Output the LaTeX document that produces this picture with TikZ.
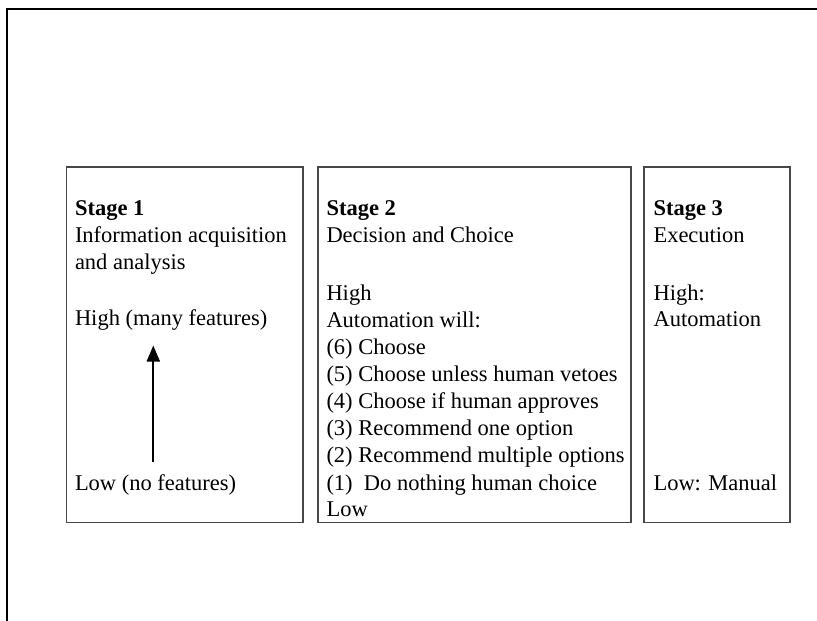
\documentclass[tikz,border=0pt]{standalone}
\usepackage{fontspec}
\setmainfont{Liberation Serif}
\usetikzlibrary{arrows.meta}

\begin{document}
\begin{tikzpicture}[x=1pt,y=-1pt,
  frameline/.style={line width=2pt,black},
  stagebox/.style={draw=black!72,line width=1.5pt},
  txt/.style={anchor=base west,inner sep=0pt,outer sep=0pt,
    font=\fontsize{22.5}{27}\selectfont,text=black},
  hdr/.style={txt,font=\fontsize{22.5}{27}\selectfont\bfseries},
  uparrow/.style={line width=2pt,-{Triangle[length=16pt,width=13pt]}}]

  % canvas
  \useasboundingbox (0,0) rectangle (817,621);
  \fill[white] (0,0) rectangle (817,621);

  % open page frame: top and left edges only
  \draw[frameline] (6.5,621) -- (6.5,9) -- (817,9);

  % the three stage panels
  \draw[stagebox] (66.5,167) rectangle (303,522.5);
  \draw[stagebox] (318,167) rectangle (631,522.5);
  \draw[stagebox] (644,167) rectangle (790,522.5);

  % Stage 1
  \node[hdr] (s1title) at (75,215.7) {Stage 1};
  \node[txt] (s1a) at (75,242.4) {Information acquisition};
  \node[txt] (s1b) at (75,269.1) {and analysis};
  \node[txt] (s1high) at (75,325) {High (many features)};
  \node[txt] (s1low) at (75,490) {Low (no features)};
  \coordinate (arrlow) at (153.3,462);
  \coordinate (arrhigh) at (153.3,345.5);
  \draw[uparrow] (arrlow) -- (arrhigh);

  % Stage 2
  \node[hdr] (s2title) at (326.5,215.7) {Stage 2};
  \node[txt] (s2a) at (326.5,242.4) {Decision and Choice};
  \node[txt] (s2high) at (326.5,300.5) {High};
  \node[txt] (s2auto) at (326.5,327.5) {Automation will:};
  \node[txt] (s2l6) at (326.5,354.6) {(6) Choose};
  \node[txt] (s2l5) at (326.5,381.7) {(5) Choose unless human vetoes};
  \node[txt] (s2l4) at (326.5,408.8) {(4) Choose if human approves};
  \node[txt] (s2l3) at (326.5,435.8) {(3) Recommend one option};
  \node[txt] (s2l2) at (326.5,462.9) {(2) Recommend multiple options};
  \node[txt] (s2l1) at (326.5,490) {(1)\ \ Do nothing human choice};
  \node[txt] (s2low) at (326.5,516.7) {Low};

  % Stage 3
  \node[hdr] (s3title) at (653.5,215.7) {Stage 3};
  \node[txt] (s3a) at (653.5,242.4) {Execution};
  \node[txt] (s3high) at (653.5,300.2) {High:};
  \node[txt] (s3auto) at (653.5,326.9) {Automation};
  \node[txt] (s3low) at (653.5,490) {Low: Manual};
\end{tikzpicture}
\end{document}
